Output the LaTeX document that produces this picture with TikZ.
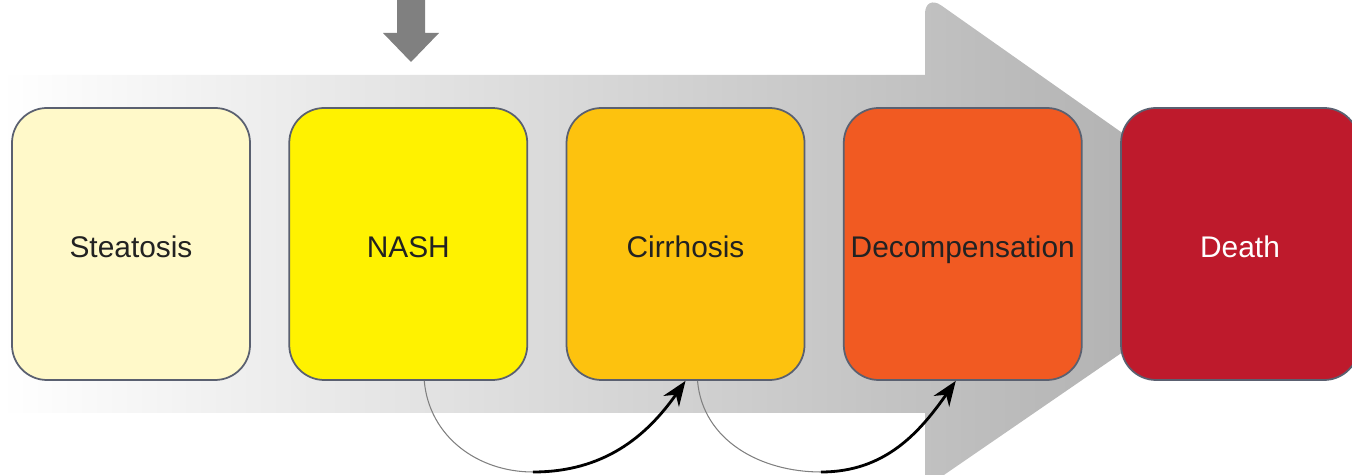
\documentclass[tikz,border=0pt]{standalone}
\usepackage{fontspec}
\setmainfont{Liberation Sans}
\usetikzlibrary{arrows.meta, positioning}
\definecolor{steat}{HTML}{FFF9C9}
\definecolor{nash}{HTML}{FFF200}
\definecolor{cirr}{HTML}{FDC20E}
\definecolor{decomp}{HTML}{F15A22}
\definecolor{death}{HTML}{BE1A2C}
\definecolor{boxline}{HTML}{5A6070}
\definecolor{textgray}{HTML}{222222}
\definecolor{arrowgray}{RGB}{169,169,169}
\definecolor{ingray}{HTML}{808080}
\begin{document}
\begin{tikzpicture}[
  stage/.style={draw=boxline, line width=1pt, rounded corners=0.7cm,
    minimum width=4.76cm, minimum height=5.44cm, text=textgray,
    text height=17pt, text depth=2pt,
    font=\fontsize{17}{20}\selectfont},
  lowline/.style={draw=gray, line width=0.6pt},
  upline/.style={draw=black, line width=1.6pt, -{Stealth[length=0.5cm, width=0.38cm]}}
]
\useasboundingbox (0,0) rectangle (27.04,9.5);
\shade[left color=white, right color=arrowgray]
  (0,1.24) -- (18.5,1.24) -- (18.5,-0.26) -- (25.6,4.62)
  [rounded corners=0.4cm] -- (18.5,9.62) [sharp corners] -- (18.5,8.0) -- (0,8.0) -- cycle;
\fill[ingray] (7.94,9.6) -- (7.94,8.84) -- (7.66,8.84) -- (8.22,8.26)
  -- (8.78,8.84) -- (8.5,8.84) -- (8.5,9.6) -- cycle;
\node[stage, fill=steat] (steatosis) at (2.62,4.62) {Steatosis};
\node[stage, fill=nash, right=0.75cm of steatosis] (nash) {NASH};
\node[stage, fill=cirr, right=0.75cm of nash] (cirrhosis) {Cirrhosis};
\node[stage, fill=decomp, right=0.75cm of cirrhosis] (decompensation) {Decompensation};
\node[stage, fill=death, text=white, right=0.75cm of decompensation] (death) {Death};
\coordinate (b1) at (10.66,0.06);
\coordinate (b2) at (16.42,0.06);
\draw[lowline] ([xshift=0.32cm]nash.south) to[out=-85, in=180] (b1);
\draw[upline] (b1) to[out=0, in=235] (cirrhosis.south);
\draw[lowline] ([xshift=0.24cm]cirrhosis.south) to[out=-85, in=180] (b2);
\draw[upline] (b2) to[out=0, in=235] ([xshift=-0.14cm]decompensation.south);
\end{tikzpicture}
\end{document}
